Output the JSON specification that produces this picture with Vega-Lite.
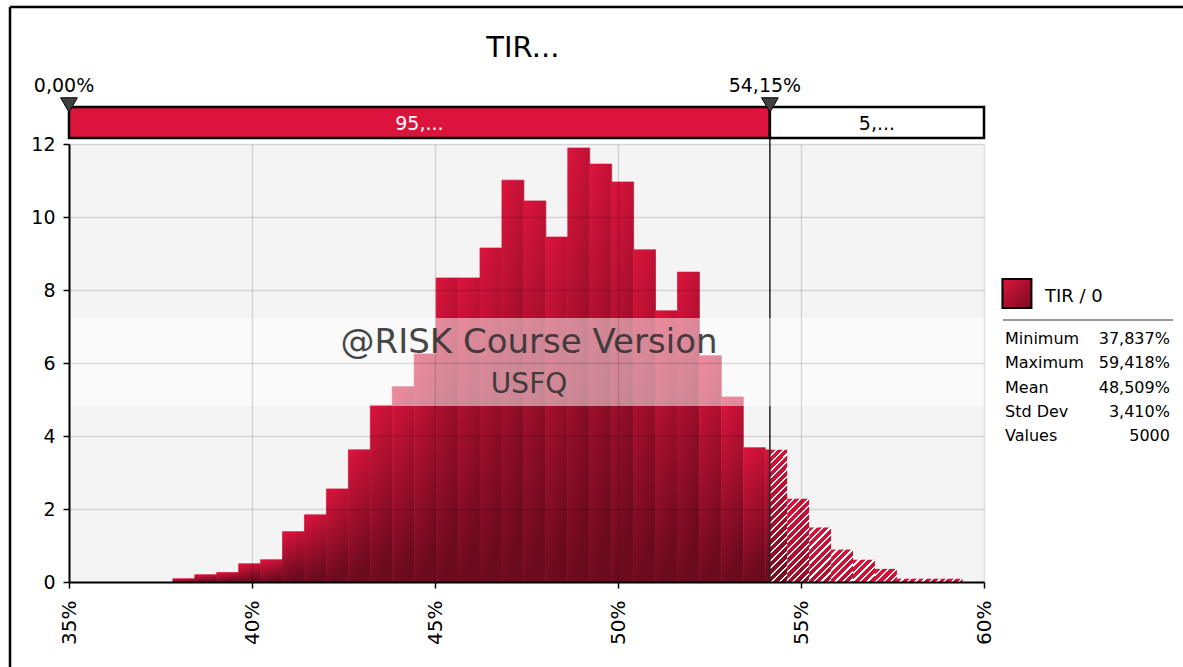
{
  "$schema": "https://vega.github.io/schema/vega-lite/v6.json",
  "width": 915,
  "height": 438,
  "autosize": "none",
  "padding": {"left": 69, "top": 144, "right": 199, "bottom": 85},
  "background": "white",
  "params": [
    {"name": "hs", "value": [
      {"offset":0,"color":"#DC143C"},{"offset":0.035,"color":"#DC143C"},{"offset":0.035,"color":"#FFFFFF"},{"offset":0.05,"color":"#FFFFFF"},
      {"offset":0.05,"color":"#D6133A"},{"offset":0.085,"color":"#D6133A"},{"offset":0.085,"color":"#FFFFFF"},{"offset":0.1,"color":"#FFFFFF"},
      {"offset":0.1,"color":"#D11339"},{"offset":0.135,"color":"#D11339"},{"offset":0.135,"color":"#FFFFFF"},{"offset":0.15,"color":"#FFFFFF"},
      {"offset":0.15,"color":"#CB1237"},{"offset":0.185,"color":"#CB1237"},{"offset":0.185,"color":"#FFFFFF"},{"offset":0.2,"color":"#FFFFFF"},
      {"offset":0.2,"color":"#C61236"},{"offset":0.235,"color":"#C61236"},{"offset":0.235,"color":"#FFFFFF"},{"offset":0.25,"color":"#FFFFFF"},
      {"offset":0.25,"color":"#C01134"},{"offset":0.285,"color":"#C01134"},{"offset":0.285,"color":"#FFFFFF"},{"offset":0.3,"color":"#FFFFFF"},
      {"offset":0.3,"color":"#BB1133"},{"offset":0.335,"color":"#BB1133"},{"offset":0.335,"color":"#FFFFFF"},{"offset":0.35,"color":"#FFFFFF"},
      {"offset":0.35,"color":"#B51031"},{"offset":0.385,"color":"#B51031"},{"offset":0.385,"color":"#FFFFFF"},{"offset":0.4,"color":"#FFFFFF"},
      {"offset":0.4,"color":"#B01030"},{"offset":0.435,"color":"#B01030"},{"offset":0.435,"color":"#FFFFFF"},{"offset":0.45,"color":"#FFFFFF"},
      {"offset":0.45,"color":"#AA0F2E"},{"offset":0.485,"color":"#AA0F2E"},{"offset":0.485,"color":"#FFFFFF"},{"offset":0.5,"color":"#FFFFFF"},
      {"offset":0.5,"color":"#A50F2D"},{"offset":0.535,"color":"#A50F2D"},{"offset":0.535,"color":"#FFFFFF"},{"offset":0.55,"color":"#FFFFFF"},
      {"offset":0.55,"color":"#9F0E2B"},{"offset":0.585,"color":"#9F0E2B"},{"offset":0.585,"color":"#FFFFFF"},{"offset":0.6,"color":"#FFFFFF"},
      {"offset":0.6,"color":"#9A0E2A"},{"offset":0.635,"color":"#9A0E2A"},{"offset":0.635,"color":"#FFFFFF"},{"offset":0.65,"color":"#FFFFFF"},
      {"offset":0.65,"color":"#940D28"},{"offset":0.685,"color":"#940D28"},{"offset":0.685,"color":"#FFFFFF"},{"offset":0.7,"color":"#FFFFFF"},
      {"offset":0.7,"color":"#8F0D27"},{"offset":0.735,"color":"#8F0D27"},{"offset":0.735,"color":"#FFFFFF"},{"offset":0.75,"color":"#FFFFFF"},
      {"offset":0.75,"color":"#890C25"},{"offset":0.785,"color":"#890C25"},{"offset":0.785,"color":"#FFFFFF"},{"offset":0.8,"color":"#FFFFFF"},
      {"offset":0.8,"color":"#840C24"},{"offset":0.835,"color":"#840C24"},{"offset":0.835,"color":"#FFFFFF"},{"offset":0.85,"color":"#FFFFFF"},
      {"offset":0.85,"color":"#7E0B22"},{"offset":0.885,"color":"#7E0B22"},{"offset":0.885,"color":"#FFFFFF"},{"offset":0.9,"color":"#FFFFFF"},
      {"offset":0.9,"color":"#790B21"},{"offset":0.935,"color":"#790B21"},{"offset":0.935,"color":"#FFFFFF"},{"offset":0.95,"color":"#FFFFFF"},
      {"offset":0.95,"color":"#730A1F"},{"offset":0.985,"color":"#730A1F"},{"offset":0.985,"color":"#FFFFFF"},{"offset":1,"color":"#FFFFFF"}
    ]}
  ],
  "datasets": {
    "bins": [
      {"start":37.837,"end":38.4365,"density":0.09},
      {"start":38.4365,"end":39.0359,"density":0.20},
      {"start":39.0359,"end":39.6354,"density":0.26},
      {"start":39.6354,"end":40.2349,"density":0.50},
      {"start":40.2349,"end":40.8344,"density":0.61},
      {"start":40.8344,"end":41.4338,"density":1.38},
      {"start":41.4338,"end":42.0333,"density":1.84},
      {"start":42.0333,"end":42.6328,"density":2.55},
      {"start":42.6328,"end":43.2322,"density":3.62},
      {"start":43.2322,"end":43.8317,"density":4.84},
      {"start":43.8317,"end":44.4312,"density":5.35},
      {"start":44.4312,"end":45.0307,"density":6.25},
      {"start":45.0307,"end":45.6301,"density":8.33},
      {"start":45.6301,"end":46.2296,"density":8.33},
      {"start":46.2296,"end":46.8291,"density":9.15},
      {"start":46.8291,"end":47.4286,"density":11.01},
      {"start":47.4286,"end":48.0280,"density":10.44},
      {"start":48.0280,"end":48.6275,"density":9.45},
      {"start":48.6275,"end":49.2270,"density":11.89},
      {"start":49.2270,"end":49.8264,"density":11.45},
      {"start":49.8264,"end":50.4259,"density":10.96},
      {"start":50.4259,"end":51.0254,"density":9.10},
      {"start":51.0254,"end":51.6249,"density":7.43},
      {"start":51.6249,"end":52.2243,"density":8.49},
      {"start":52.2243,"end":52.8238,"density":6.20},
      {"start":52.8238,"end":53.4233,"density":5.07},
      {"start":53.4233,"end":54.0227,"density":3.68},
      {"start":54.0227,"end":54.15,"density":3.62},
      {"start":54.15,"end":54.6222,"density":3.62},
      {"start":54.6222,"end":55.2217,"density":2.28},
      {"start":55.2217,"end":55.8212,"density":1.49},
      {"start":55.8212,"end":56.4206,"density":0.89},
      {"start":56.4206,"end":57.0201,"density":0.61},
      {"start":57.0201,"end":57.6196,"density":0.36},
      {"start":57.6196,"end":58.2190,"density":0.09},
      {"start":58.2190,"end":58.8185,"density":0.09},
      {"start":58.8185,"end":59.418,"density":0.09}
    ],
    "regions": [
      {"from":35,"to":54.15,"pct":"95,...","side":"left"},
      {"from":54.15,"to":60,"pct":"5,...","side":"right"}
    ],
    "delims": [
      {"pos":35,"label":"0,00%"},
      {"pos":54.15,"label":"54,15%"}
    ],
    "threshold": [{"x":54.15}],
    "watermark": [{"line1":"@RISK Course Version","line2":"USFQ"}],
    "titles": [{"title":"TIR..."}],
    "series": [{"series":"TIR / 0"}],
    "stats": [
      {"label":"Minimum","value":"37,837%"},
      {"label":"Maximum","value":"59,418%"},
      {"label":"Mean","value":"48,509%"},
      {"label":"Std Dev","value":"3,410%"},
      {"label":"Values","value":"5000"}
    ]
  },
  "config": {
    "font": "DejaVu Sans",
    "view": {"fill": "#f4f4f4", "stroke": null},
    "text": {"color": "#000"}
  },
  "layer": [
    {
      "layer": [
        {
          "data": {"name": "bins"},
          "transform": [{"filter": "datum.start < 54.15"}],
          "mark": {"type": "rect",
            "fill": {"gradient": "linear", "x1": 0, "y1": 0, "x2": 0.25, "y2": 1, "stops": [{"offset": 0, "color": "#DC143C"}, {"offset": 1, "color": "#6C0A1F"}]},
            "stroke": {"gradient": "linear", "x1": 0, "y1": 0, "x2": 0.25, "y2": 1, "stops": [{"offset": 0, "color": "#DC143C"}, {"offset": 1, "color": "#6C0A1F"}]},
            "strokeWidth": 0.7},
          "encoding": {
            "x": {"field": "start", "type": "quantitative", "scale": {"domain": [35, 60], "nice": false, "zero": false},
              "axis": {"values": [35, 40, 45, 50, 55, 60], "labelExpr": "datum.value + '%'", "labelAngle": -90, "labelFontSize": 20, "labelPadding": 12, "labelFlush": false, "labelOverlap": false, "labelColor": "#000", "tickSize": 6, "tickColor": "#000", "tickWidth": 1.5, "domainColor": "#000", "domainWidth": 2, "grid": true, "gridColor": "#000", "gridOpacity": 0.13, "gridWidth": 1.5, "title": null, "zindex": 1}},
            "x2": {"field": "end"},
            "y": {"field": "density", "type": "quantitative", "scale": {"domain": [0, 12], "nice": false},
              "axis": {"values": [0, 2, 4, 6, 8, 10, 12], "labelFontSize": 19, "labelPadding": 8, "labelFlush": false, "labelColor": "#000", "tickSize": 6, "tickColor": "#000", "tickWidth": 1.5, "domainColor": "#000", "domainWidth": 2, "grid": true, "gridColor": "#000", "gridOpacity": 0.13, "gridWidth": 1.5, "title": null, "zindex": 1}},
            "y2": {"datum": 0}
          }
        },
        {
          "data": {"name": "bins"},
          "transform": [{"filter": "datum.start >= 54.15"}],
          "mark": {"type": "rect"},
          "encoding": {
            "x": {"field": "start", "type": "quantitative"},
            "x2": {"field": "end"},
            "y": {"field": "density", "type": "quantitative"},
            "y2": {"datum": 0},
            "fill": {
              "condition": [
                {"test": "datum.start < 54.2", "value": {"expr": "{gradient: 'linear', x1: 0, y1: 0, x2: 0.1462, y2: 1.1164, stops: hs}"}},
                {"test": "datum.start < 54.7", "value": {"expr": "{gradient: 'linear', x1: 0, y1: 0, x2: 0.4445, y2: 1.6857, stops: hs}"}},
                {"test": "datum.start < 55.3", "value": {"expr": "{gradient: 'linear', x1: 0, y1: 0, x2: 0.9565, y2: 2.3716, stops: hs}"}},
                {"test": "datum.start < 55.9", "value": {"expr": "{gradient: 'linear', x1: 0, y1: 0, x2: 2.140, y2: 3.170, stops: hs}"}},
                {"test": "datum.start < 56.5", "value": {"expr": "{gradient: 'linear', x1: 0, y1: 0, x2: 3.363, y2: 3.418, stops: hs}"}},
                {"test": "datum.start < 57.1", "value": {"expr": "{gradient: 'linear', x1: 0, y1: 0, x2: 5.040, y2: 3.009, stops: hs}"}}
              ],
              "value": {"expr": "{gradient: 'linear', x1: 0, y1: 0, x2: 6.685, y2: 1.005, stops: hs}"}
            }
          }
        },
        {
          "data": {"name": "threshold"},
          "mark": {"type": "rule", "color": "#222", "strokeWidth": 1.5},
          "encoding": {
            "x": {"field": "x", "type": "quantitative"},
            "y": {"datum": 0},
            "y2": {"datum": 13.014}
          }
        },
        {
          "data": {"name": "watermark"},
          "mark": {"type": "rect", "fill": "#FFFFFF", "opacity": 0.5},
          "encoding": {
            "x": {"datum": 35},
            "x2": {"datum": 60},
            "y": {"datum": 4.822},
            "y2": {"datum": 7.233}
          }
        },
        {
          "data": {"name": "watermark"},
          "mark": {"type": "text", "fontSize": 34, "color": "#333", "opacity": 0.9, "align": "center", "baseline": "alphabetic"},
          "encoding": {
            "x": {"datum": 47.57},
            "y": {"datum": 6.274},
            "text": {"field": "line1"}
          }
        },
        {
          "data": {"name": "watermark"},
          "mark": {"type": "text", "fontSize": 28, "color": "#333", "opacity": 0.9, "align": "center", "baseline": "alphabetic"},
          "encoding": {
            "x": {"datum": 47.57},
            "y": {"datum": 5.17},
            "text": {"field": "line2"}
          }
        },
        {
          "data": {"name": "regions"},
          "mark": {"type": "rect", "stroke": "#000", "strokeWidth": 2.5},
          "encoding": {
            "x": {"field": "from", "type": "quantitative"},
            "x2": {"field": "to"},
            "y": {"datum": 12.164},
            "y2": {"datum": 13.014},
            "fill": {"condition": {"test": "datum.side == 'left'", "value": "#DC143C"}, "value": "#FFFFFF"}
          }
        },
        {
          "data": {"name": "regions"},
          "transform": [{"calculate": "(datum.from + datum.to) / 2", "as": "mid"}],
          "mark": {"type": "text", "fontSize": 19, "align": "center", "baseline": "alphabetic"},
          "encoding": {
            "x": {"field": "mid", "type": "quantitative"},
            "y": {"datum": 12.384},
            "text": {"field": "pct"},
            "color": {"condition": {"test": "datum.side == 'left'", "value": "#FFFFFF"}, "value": "#000000"}
          }
        },
        {
          "data": {"name": "delims"},
          "mark": {"type": "point", "shape": "triangle-down", "filled": true, "fill": "#404040", "stroke": "#000", "strokeWidth": 1, "size": 280, "opacity": 1},
          "encoding": {
            "x": {"field": "pos", "type": "quantitative"},
            "y": {"datum": 13.068}
          }
        },
        {
          "data": {"name": "delims"},
          "mark": {"type": "text", "fontSize": 19, "align": "center", "baseline": "alphabetic", "dx": -5},
          "encoding": {
            "x": {"field": "pos", "type": "quantitative"},
            "y": {"datum": 13.425},
            "text": {"field": "label"}
          }
        },
        {
          "data": {"name": "titles"},
          "mark": {"type": "text", "fontSize": 29, "align": "center", "baseline": "alphabetic"},
          "encoding": {
            "x": {"datum": 47.40},
            "y": {"datum": 14.384},
            "text": {"field": "title"}
          }
        },
        {
          "data": {"name": "titles"},
          "mark": {"type": "rule", "color": "#000", "strokeWidth": 2.5},
          "encoding": {
            "x": {"datum": 33.388},
            "x2": {"datum": 66},
            "y": {"datum": 15.753}
          }
        },
        {
          "data": {"name": "titles"},
          "mark": {"type": "rule", "color": "#000", "strokeWidth": 2.5},
          "encoding": {
            "x": {"datum": 33.388},
            "y": {"datum": 15.753},
            "y2": {"datum": -3}
          }
        },
        {
          "data": {"name": "series"},
          "mark": {"type": "point", "shape": "square", "filled": true, "size": 841, "opacity": 1, "stroke": "#000", "strokeWidth": 2,
            "fill": {"gradient": "linear", "x1": 0, "y1": 0, "x2": 1, "y2": 1, "stops": [{"offset": 0, "color": "#DC143C"}, {"offset": 1, "color": "#7A0B22"}]}},
          "encoding": {
            "x": {"datum": 60.90},
            "y": {"datum": 7.904}
          }
        },
        {
          "data": {"name": "series"},
          "mark": {"type": "text", "fontSize": 18, "align": "left", "baseline": "alphabetic"},
          "encoding": {
            "x": {"datum": 61.667},
            "y": {"datum": 7.68},
            "text": {"field": "series"}
          }
        },
        {
          "data": {"name": "series"},
          "mark": {"type": "rule", "color": "#999", "strokeWidth": 2},
          "encoding": {
            "x": {"datum": 60.52},
            "x2": {"datum": 65.164},
            "y": {"datum": 7.178}
          }
        }
      ]
    },
    {
      "data": {"name": "stats"},
      "encoding": {
        "y": {"field": "label", "type": "nominal", "sort": null, "scale": {"type": "point", "range": [200, 297], "padding": 0}, "axis": null}
      },
      "layer": [
        {
          "mark": {"type": "text", "fontSize": 16, "align": "left", "baseline": "alphabetic"},
          "encoding": {"x": {"datum": 60.574}, "text": {"field": "label"}}
        },
        {
          "mark": {"type": "text", "fontSize": 16, "align": "right", "baseline": "alphabetic"},
          "encoding": {"x": {"datum": 65.08}, "text": {"field": "value"}}
        }
      ]
    }
  ],
  "resolve": {"scale": {"y": "independent"}}
}
